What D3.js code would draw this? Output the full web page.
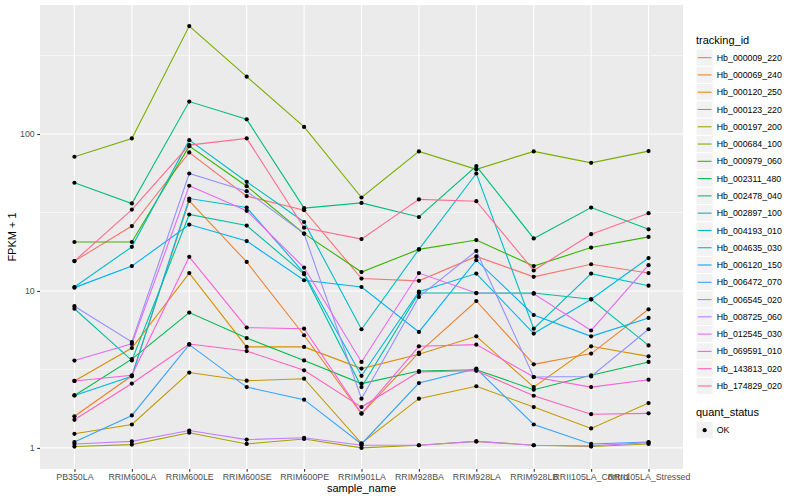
<!DOCTYPE html>
<html>
<head>
<meta charset="utf-8">
<script src="https://cdn.jsdelivr.net/npm/d3@7/dist/d3.min.js"></script>
<style>
  body { margin: 0; background: #fff; }
  svg { display: block; font-family: "Liberation Sans", Arial, sans-serif; }
</style>
</head>
<body>
<svg id="expr-plot-svg" width="800" height="500"></svg>
<script>
(function() {

  // sample_name levels (x axis)
  const samples = ['PB350LA', 'RRIM600LA', 'RRIM600LE', 'RRIM600SE', 'RRIM600PE', 'RRIM901LA',
    'RRIM928BA', 'RRIM928LA', 'RRIM928LB', 'RRII105LA_Control', 'RRII105LA_Stressed'];

  const trackingIds = ['Hb_000009_220', 'Hb_000069_240', 'Hb_000120_250', 'Hb_000123_220',
    'Hb_000197_200', 'Hb_000684_100', 'Hb_000979_060', 'Hb_002311_480', 'Hb_002478_040',
    'Hb_002897_100', 'Hb_004193_010', 'Hb_004635_030', 'Hb_006120_150', 'Hb_006472_070',
    'Hb_006545_020', 'Hb_008725_060', 'Hb_012545_030', 'Hb_069591_010', 'Hb_143813_020',
    'Hb_174829_020'];

  // FPKM + 1, one row per tracking_id, one value per sample
  const fpkm = [
    [15.5, 25.9, 76.3, 40.2, 32.7, 12.0, 11.6, 16.6, 12.3, 14.8, 13.0],
    [1.59, 2.88, 37.5, 15.3, 5.22, 1.65, 4.05, 8.63, 3.41, 3.99, 7.64],
    [2.67, 4.33, 13.0, 4.40, 4.40, 3.20, 3.95, 5.14, 2.44, 4.44, 3.83],
    [1.23, 1.41, 3.02, 2.68, 2.76, 1.07, 2.06, 2.47, 1.82, 1.33, 1.93],
    [1.02, 1.05, 1.25, 1.06, 1.14, 1.00, 1.04, 1.10, 1.04, 1.02, 1.06],
    [71.6, 93.7, 487, 232, 111, 39.4, 77.5, 59.5, 77.5, 65.5, 77.8],
    [20.5, 20.5, 83.7, 46.5, 23.2, 13.2, 18.4, 21.1, 14.4, 18.9, 22.1],
    [2.16, 3.68, 7.28, 5.01, 3.61, 2.57, 3.09, 3.15, 2.35, 2.90, 3.53],
    [48.9, 36.1, 161, 124, 33.7, 36.4, 29.6, 62.5, 21.6, 34.0, 24.7],
    [7.70, 3.61, 30.7, 26.1, 12.8, 2.44, 9.70, 9.70, 9.70, 8.85, 4.50],
    [10.6, 19.1, 91.4, 49.6, 27.5, 5.70, 18.4, 56.0, 5.75, 12.9, 10.8],
    [2.16, 2.86, 38.8, 34.0, 13.0, 2.88, 9.90, 12.9, 5.35, 8.85, 16.2],
    [10.5, 14.4, 26.5, 20.8, 11.7, 10.6, 5.48, 15.7, 7.03, 5.14, 6.73],
    [1.09, 1.61, 4.55, 2.44, 2.03, 1.06, 2.59, 3.20, 1.41, 1.06, 1.09],
    [8.00, 4.73, 56.0, 43.2, 23.2, 2.06, 9.16, 18.0, 2.83, 2.85, 5.70],
    [1.06, 1.10, 1.29, 1.13, 1.16, 1.04, 1.04, 1.10, 1.04, 1.03, 1.08],
    [3.60, 4.60, 46.8, 32.4, 14.1, 3.53, 13.0, 9.70, 9.60, 5.60, 14.6],
    [2.67, 2.90, 16.5, 5.84, 5.75, 1.66, 4.44, 4.55, 2.83, 2.44, 2.72],
    [1.51, 2.57, 4.59, 4.14, 3.12, 1.82, 3.05, 3.10, 2.15, 1.64, 1.66],
    [15.5, 33.0, 85.0, 93.8, 25.3, 21.4, 38.3, 37.3, 13.5, 23.0, 31.3]
  ];

  const yTicks = [1, 10, 100];
  const statusLevels = ['OK'];

  // ggplot hue palette for 20 levels
  const palette = ['#F8766D', '#EA8331', '#D89000', '#C09B00', '#A3A500', '#7CAE00', '#39B600',
    '#00BB4E', '#00BF7D', '#00C1A3', '#00BFC4', '#00BAE0', '#00B0F6', '#35A2FF', '#9590FF',
    '#C77CFF', '#E76BF3', '#FA62DB', '#FF62BC', '#FF6C91'];

  let svg = d3.select('#expr-plot-svg');
  let panel = { left: 40, right: 683, top: 5, bottom: 469 };

  let xScale = d3.scalePoint()
    .domain(samples)
    .range([panel.left, panel.right])
    .padding(0.6);

  // log10 scale with ggplot's 5% expansion
  let [lo, hi] = d3.extent(fpkm.flat().map(Math.log10));
  let pad = (hi - lo) * 0.05;
  let yScale = d3.scaleLog()
    .domain([Math.pow(10, lo - pad), Math.pow(10, hi + pad)])
    .range([panel.bottom, panel.top]);

  // panel background
  svg.append('rect')
    .attr('x', panel.left).attr('y', panel.top)
    .attr('width', panel.right - panel.left).attr('height', panel.bottom - panel.top)
    .attr('fill', '#EBEBEB');

  let grid = svg.append('g');
  let minorTicks = [0.5, 1.5, 2.5].map((e) => Math.pow(10, e))
    .filter((v) => v > yScale.domain()[0] && v < yScale.domain()[1]);

  grid.selectAll('.minor').data(minorTicks).enter().append('line')
    .attr('x1', panel.left).attr('x2', panel.right)
    .attr('y1', (d) => yScale(d)).attr('y2', (d) => yScale(d))
    .attr('stroke', '#fff').attr('stroke-width', 0.55);

  grid.selectAll('.major-y').data(yTicks).enter().append('line')
    .attr('x1', panel.left).attr('x2', panel.right)
    .attr('y1', (d) => yScale(d)).attr('y2', (d) => yScale(d))
    .attr('stroke', '#fff').attr('stroke-width', 1.1);

  grid.selectAll('.major-x').data(samples).enter().append('line')
    .attr('x1', (d) => xScale(d)).attr('x2', (d) => xScale(d))
    .attr('y1', panel.top).attr('y2', panel.bottom)
    .attr('stroke', '#fff').attr('stroke-width', 1.1);

  // lines
  let line = d3.line()
    .x((d, i) => xScale(samples[i]))
    .y((d) => yScale(d));

  svg.append('g').selectAll('path').data(fpkm).enter().append('path')
    .attr('fill', 'none')
    .attr('stroke', (d, i) => palette[i])
    .attr('stroke-width', 1.1)
    .attr('d', line);

  // points (quant_status = OK)
  let pts = [];
  fpkm.forEach((row) => row.forEach((v, i) => pts.push({ sample: samples[i], value: v })));
  svg.append('g').selectAll('circle').data(pts).enter().append('circle')
    .attr('cx', (d) => xScale(d.sample))
    .attr('cy', (d) => yScale(d.value))
    .attr('r', 2.1)
    .attr('fill', '#000');

  // y axis
  let yAxis = svg.append('g')
    .attr('transform', `translate(${panel.left}, 0)`)
    .call(d3.axisLeft(yScale).tickValues(yTicks).tickFormat(d3.format('d')).tickSize(2.75).tickPadding(2.5));

  // x axis
  let xAxis = svg.append('g')
    .attr('transform', `translate(0, ${panel.bottom})`)
    .call(d3.axisBottom(xScale).tickSize(2.75).tickPadding(2.5));

  [xAxis, yAxis].forEach((ax) => {
    ax.select('.domain').remove();
    ax.selectAll('.tick line').attr('stroke', '#333333').attr('stroke-width', 1.1);
    ax.selectAll('.tick text')
      .attr('fill', '#4D4D4D')
      .attr('font-size', '8.8px')
      .attr('font-family', '"Liberation Sans", Arial, sans-serif');
  });

  // axis titles
  svg.append('text')
    .attr('x', (panel.left + panel.right) / 2).attr('y', 492)
    .attr('text-anchor', 'middle').attr('font-size', '11px').attr('fill', '#000')
    .text('sample_name');

  svg.append('text')
    .attr('transform', `translate(16, ${(panel.top + panel.bottom) / 2}) rotate(-90)`)
    .attr('text-anchor', 'middle').attr('font-size', '11px').attr('fill', '#000')
    .text('FPKM + 1');

  // legend: tracking_id
  let keySize = 17.28;
  let legend = svg.append('g').attr('transform', 'translate(696, 0)');

  legend.append('text')
    .attr('x', 0).attr('y', 44)
    .attr('font-size', '11px').attr('fill', '#000')
    .text('tracking_id');

  let items = legend.selectAll('.item').data(trackingIds).enter().append('g')
    .attr('transform', (d, i) => `translate(0, ${49 + i * keySize})`);

  items.append('rect')
    .attr('width', keySize).attr('height', keySize)
    .attr('fill', '#F2F2F2').attr('stroke', '#fff').attr('stroke-width', 1);

  items.append('line')
    .attr('x1', 1.7).attr('x2', keySize - 1.7)
    .attr('y1', keySize / 2).attr('y2', keySize / 2)
    .attr('stroke', (d, i) => palette[i]).attr('stroke-width', 1.1);

  items.append('text')
    .attr('x', keySize + 3.5).attr('y', keySize / 2 + 3.1)
    .attr('font-size', '8.8px').attr('fill', '#000')
    .text((d) => d);

  // legend: quant_status
  let legend2 = svg.append('g').attr('transform', 'translate(696, 0)');

  legend2.append('text')
    .attr('x', 0).attr('y', 416)
    .attr('font-size', '11px').attr('fill', '#000')
    .text('quant_status');

  let items2 = legend2.selectAll('.item').data(statusLevels).enter().append('g')
    .attr('transform', (d, i) => `translate(0, ${421.5 + i * keySize})`);

  items2.append('rect')
    .attr('width', keySize).attr('height', keySize)
    .attr('fill', '#F2F2F2').attr('stroke', '#fff').attr('stroke-width', 1);

  items2.append('circle')
    .attr('cx', keySize / 2).attr('cy', keySize / 2).attr('r', 2.1)
    .attr('fill', '#000');

  items2.append('text')
    .attr('x', keySize + 3.5).attr('y', keySize / 2 + 3.1)
    .attr('font-size', '8.8px').attr('fill', '#000')
    .text((d) => d);

})();
</script>
</body>
</html>
